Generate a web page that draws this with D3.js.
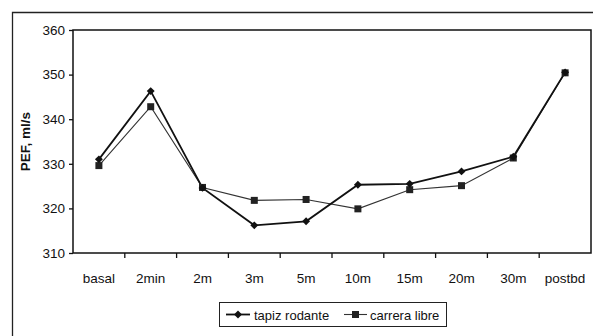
<!DOCTYPE html>
<html>
<head>
<meta charset="utf-8">
<script src="https://cdn.jsdelivr.net/npm/d3@7"></script>
<style>
body { margin: 0; background: #fff; }
svg text { font-family: "Liberation Sans", Arial, sans-serif; fill: #111; }
</style>
</head>
<body>
<svg></svg>
<script>
var categories = ["basal", "2min", "2m", "3m", "5m", "10m", "15m", "20m", "30m", "postbd"];
var tapizRodante = [331.0, 346.3, 324.6, 316.2, 317.1, 325.3, 325.5, 328.3, 331.6, 350.5];
var carreraLibre = [329.6, 342.8, 324.7, 321.8, 322.0, 319.9, 324.2, 325.1, 331.3, 350.4];
var yTicks = [310, 320, 330, 340, 350, 360];

var screen = {width: 593, height: 336};
var margins = {left: 73, top: 30, right: 2, bottom: 83};
var graph = {
    width: screen.width - margins.left - margins.right,
    height: screen.height - margins.top - margins.bottom
};

var svg = d3.select("svg")
    .attr("width", screen.width)
    .attr("height", screen.height);

// outer frame (left + top only visible)
svg.append("path")
    .attr("d", "M12.5,340 L12.5,12.5 L600,12.5")
    .attr("fill", "none")
    .attr("stroke", "#222")
    .attr("stroke-width", 1.3);

var target = svg.append("g")
    .attr("id", "graph")
    .attr("transform", "translate(" + margins.left + "," + margins.top + ")");

var xScale = d3.scaleBand()
    .domain(categories)
    .range([0, graph.width]);

var yScale = d3.scaleLinear()
    .domain([310, 360])
    .range([graph.height, 0]);

target.append("rect")
    .attr("x", 0).attr("y", 0)
    .attr("width", graph.width)
    .attr("height", graph.height)
    .attr("fill", "none")
    .attr("stroke", "#111")
    .attr("stroke-width", 1.5);

var yAxis = target.append("g")
    .call(d3.axisLeft(yScale).tickValues(yTicks).tickSize(4).tickPadding(4));
yAxis.select(".domain").remove();
yAxis.selectAll("line").attr("stroke", "#111").attr("stroke-width", 1.3);
yAxis.selectAll("text").attr("font-size", "13.5px").attr("fill", "#111");

var xAxis = target.append("g")
    .attr("transform", "translate(0," + graph.height + ")")
    .call(d3.axisBottom(xScale).tickSize(0).tickPadding(20));
xAxis.select(".domain").remove();
xAxis.selectAll("text").attr("font-size", "13.5px").attr("fill", "#111");

// tick marks between categories
target.append("g")
    .selectAll("line")
    .data(categories.slice(1))
    .enter()
    .append("line")
    .attr("x1", function(d) { return xScale(d); })
    .attr("x2", function(d) { return xScale(d); })
    .attr("y1", graph.height)
    .attr("y2", graph.height + 5)
    .attr("stroke", "#111")
    .attr("stroke-width", 1.3);

svg.append("text")
    .attr("transform", "translate(30," + (margins.top + graph.height / 2) + ") rotate(-90)")
    .attr("text-anchor", "middle")
    .attr("font-size", "13.5px")
    .attr("font-weight", "bold")
    .text("PEF, ml/s");

var line = d3.line()
    .x(function(d, i) { return xScale(categories[i]) + xScale.bandwidth() / 2; })
    .y(function(d) { return yScale(d); });

target.append("path")
    .datum(carreraLibre)
    .attr("d", line)
    .attr("fill", "none")
    .attr("stroke", "#333")
    .attr("stroke-width", 1.1);

target.append("path")
    .datum(tapizRodante)
    .attr("d", line)
    .attr("fill", "none")
    .attr("stroke", "#111")
    .attr("stroke-width", 1.8);

target.append("g")
    .selectAll("rect")
    .data(carreraLibre)
    .enter()
    .append("rect")
    .attr("x", function(d, i) { return xScale(categories[i]) + xScale.bandwidth() / 2 - 3.5; })
    .attr("y", function(d) { return yScale(d) - 3.5; })
    .attr("width", 7)
    .attr("height", 7)
    .attr("fill", "#222");

var diamond = d3.symbol().type(d3.symbolDiamond2).size(40);
target.append("g")
    .selectAll("path")
    .data(tapizRodante)
    .enter()
    .append("path")
    .attr("d", diamond)
    .attr("transform", function(d, i) {
        return "translate(" + (xScale(categories[i]) + xScale.bandwidth() / 2) + "," + yScale(d) + ")";
    })
    .attr("fill", "#111");

// legend
var legend = svg.append("g").attr("transform", "translate(219,302)");
legend.append("rect")
    .attr("x", 0.5).attr("y", 0.5)
    .attr("width", 227).attr("height", 24)
    .attr("fill", "#fff")
    .attr("stroke", "#222")
    .attr("stroke-width", 1);

legend.append("line")
    .attr("x1", 7).attr("x2", 31).attr("y1", 12.5).attr("y2", 12.5)
    .attr("stroke", "#111").attr("stroke-width", 1.8);
legend.append("path")
    .attr("d", diamond)
    .attr("transform", "translate(19,12.5)")
    .attr("fill", "#111");
legend.append("text")
    .attr("x", 35).attr("y", 17.5)
    .attr("font-size", "13px")
    .text("tapiz rodante");

legend.append("line")
    .attr("x1", 125).attr("x2", 148).attr("y1", 12.5).attr("y2", 12.5)
    .attr("stroke", "#333").attr("stroke-width", 1.1);
legend.append("rect")
    .attr("x", 133).attr("y", 9).attr("width", 7).attr("height", 7)
    .attr("fill", "#222");
legend.append("text")
    .attr("x", 151).attr("y", 17.5)
    .attr("font-size", "13px")
    .text("carrera libre");
</script>
</body>
</html>
